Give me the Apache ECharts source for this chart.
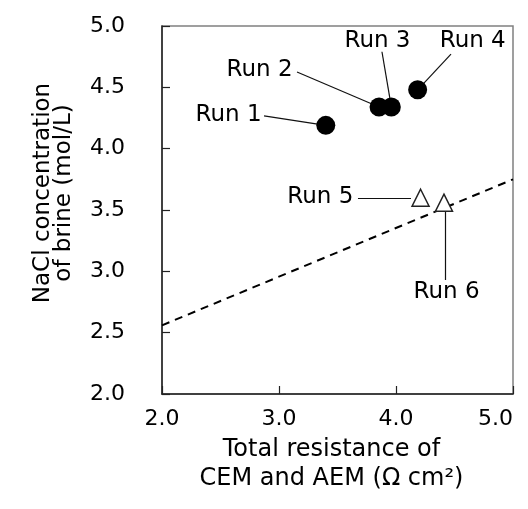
<!DOCTYPE html>
<html><head><meta charset="utf-8">
<script src="https://cdn.jsdelivr.net/npm/echarts/dist/echarts.min.js"></script>
<style>html,body{margin:0;padding:0;background:#fff}#c{width:528px;height:509px}</style>
</head><body><div id="c"></div>
<script>
// ---- data ----
const runNames = ['Run 1', 'Run 2', 'Run 3', 'Run 4', 'Run 5', 'Run 6'];
const resistance = [3.40, 3.855, 3.96, 4.185, 4.21, 4.41];      // Ω cm²
const concentration = [4.19, 4.34, 4.34, 4.48, 3.60, 3.56];     // mol/L
const markerKind = ['circle', 'circle', 'circle', 'circle', 'triangle', 'triangle'];
const trendX = [2.0, 5.0];
const trendY = [2.56, 3.75];
// annotation text anchors (data units)
const labelAnchorX = [2.855, 3.12, 3.846, 4.66, 3.64, 4.436];
const labelAnchorY = [4.27, 4.64, 4.87, 4.87, 3.598, 2.83];
const labelAlign = ['right', 'right', 'center', 'center', 'right', 'center'];
// leader lines (data units)
const leaderStartX = [2.872, 3.154, 3.88, 4.47, 3.675, 4.419];
const leaderStartY = [4.267, 4.625, 4.79, 4.77, 3.598, 2.93];
const leaderEndX = [3.40, 3.855, 3.96, 4.185, 4.128, 4.419];
const leaderEndY = [4.19, 4.34, 4.34, 4.48, 3.598, 3.516];
const xTicks = [2.0, 3.0, 4.0, 5.0];
const yTicks = [2.0, 2.5, 3.0, 3.5, 4.0, 4.5, 5.0];

const FONT = 'DejaVu Sans';
const TXT = '#000';

const circles = [], triangles = [];
runNames.forEach((n, i) => {
  (markerKind[i] === 'circle' ? circles : triangles).push([resistance[i], concentration[i]]);
});
const trend = trendX.map((x, i) => [x, trendY[i]]);
const leaders = runNames.map((n, i) => ({coords: [[leaderStartX[i], leaderStartY[i]], [leaderEndX[i], leaderEndY[i]]]}));
const labels = runNames.map((n, i) => ({
  value: [labelAnchorX[i], labelAnchorY[i]], name: n,
  label: {align: labelAlign[i]}
}));

const chart = echarts.init(document.getElementById('c'), null, {renderer: 'canvas'});
chart.setOption({
  animation: false,
  backgroundColor: '#fff',
  grid: {left: 162, top: 26, right: 15, bottom: 115, show: true, borderColor: '#808080', borderWidth: 1.5, backgroundColor: 'transparent'},
  xAxis: {
    type: 'value', min: xTicks[0], max: xTicks[xTicks.length - 1], interval: 1,
    axisLine: {show: true, onZero: false, lineStyle: {color: '#222', width: 1.5}},
    axisTick: {show: true, inside: true, length: 8, lineStyle: {color: '#222', width: 1.2}},
    splitLine: {show: false},
    axisLabel: {fontFamily: FONT, fontSize: 22, color: TXT, margin: 14, formatter: v => v.toFixed(1), alignMaxLabel: 'right', showMinLabel: true, showMaxLabel: true},
    name: 'Total resistance of\nCEM and AEM (Ω cm²)',
    nameLocation: 'middle', nameGap: 34,
    nameTextStyle: {fontFamily: FONT, fontSize: 24, color: TXT, lineHeight: 29, padding: [0, 12, 0, 0]}
  },
  yAxis: {
    type: 'value', min: yTicks[0], max: yTicks[yTicks.length - 1], interval: 0.5,
    axisLine: {show: true, onZero: false, lineStyle: {color: '#222', width: 1.5}},
    axisTick: {show: true, inside: true, length: 8, lineStyle: {color: '#222', width: 1.2}},
    splitLine: {show: false},
    axisLabel: {fontFamily: FONT, fontSize: 22, color: TXT, margin: 37, formatter: v => v.toFixed(1), showMinLabel: true, showMaxLabel: true},
    name: 'NaCl concentration\nof brine (mol/L)',
    nameLocation: 'middle', nameGap: 87,
    nameTextStyle: {fontFamily: FONT, fontSize: 23, color: TXT, lineHeight: 21, padding: [0, 0, 0, 34]}
  },
  series: [
    {
      type: 'line', data: trend, symbol: 'none', silent: true, z: 2,
      lineStyle: {color: '#000', width: 2, type: [8, 6]}
    },
    {
      type: 'lines', coordinateSystem: 'cartesian2d', data: leaders, silent: true, z: 3,
      lineStyle: {color: '#111', width: 1.2, opacity: 1}
    },
    {
      type: 'scatter', data: circles, symbol: 'circle', symbolSize: 19, silent: true, z: 5,
      itemStyle: {color: '#000', opacity: 1}
    },
    {
      type: 'scatter', data: triangles, symbol: 'triangle', symbolSize: 17, silent: true, z: 5,
      itemStyle: {color: '#fff', borderColor: '#222', borderWidth: 1.5, opacity: 1}
    },
    {
      type: 'scatter', data: labels, symbol: 'circle', symbolSize: 1, silent: true, z: 6,
      itemStyle: {color: 'rgba(0,0,0,0)', opacity: 1},
      label: {show: true, position: [0, 0], verticalAlign: 'middle', formatter: p => p.name,
        fontFamily: FONT, fontSize: 23, color: TXT, opacity: 1}
    }
  ]
});
</script>
</body></html>
